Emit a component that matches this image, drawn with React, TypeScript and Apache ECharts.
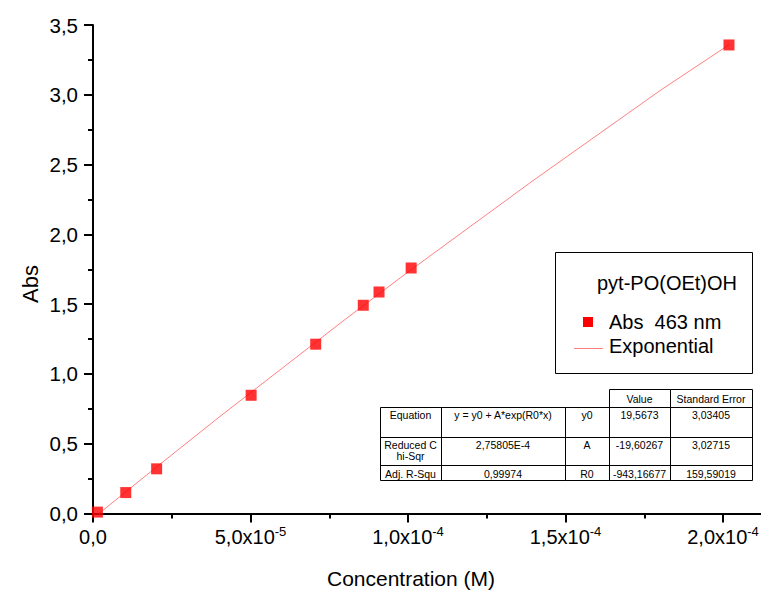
import React, { useEffect, useRef } from 'react';
import * as echarts from 'echarts';

// ---- Data ----
const concentration = [1.4e-6, 1.04e-5, 2.02e-5, 5.02e-5, 7.07e-5, 8.58e-5, 9.08e-5, 1.01e-4, 2.019e-4];
const absorbance = [0.01, 0.15, 0.32, 0.847, 1.213, 1.492, 1.587, 1.759, 3.357];

const fitX = [1.9e-6, 2e-5, 4e-5, 6e-5, 8e-5, 1e-4, 1.2e-4, 1.4e-4, 1.6e-4, 1.8e-4, 2.02e-4];
const fitY = [0.0, 0.33, 0.69, 1.04, 1.39, 1.73, 2.06, 2.39, 2.71, 3.03, 3.36];

const xTickValues = [0, 5e-5, 1e-4, 1.5e-4, 2e-4];
const xTickMantissa = ['0,0', '5,0x10', '1,0x10', '1,5x10', '2,0x10'];
const xTickExponent = ['', '-5', '-4', '-4', '-4'];
const yTickLabels = ['0,0', '0,5', '1,0', '1,5', '2,0', '2,5', '3,0', '3,5'];

const xAxisTitle = 'Concentration (M)';
const yAxisTitle = 'Abs';
const legendTitle = 'pyt-PO(OEt)OH';
const scatterName = 'Abs  463 nm';
const fitName = 'Exponential';

const tableHeader = ['Value', 'Standard Error'];
const tableRows = [
  ['Equation', 'y = y0 + A*exp(R0*x)', 'y0', '19,5673', '3,03405'],
  ['Reduced C\nhi-Sqr', '2,75805E-4', 'A', '-19,60267', '3,02715'],
  ['Adj. R-Squ', '0,99974', 'R0', '-943,16677', '159,59019'],
];

const FONT = '"Liberation Sans", Arial, sans-serif';

function buildTable(): any[] {
  const cols = [380, 441, 565, 609, 670, 752];
  const header = [389, 407];
  const rows = [407, 437, 465, 480];
  const els: any[] = [];
  const cell = (x0: number, y0: number, x1: number, y1: number, text: string, padTop: number, vAlign: string) => {
    els.push({
      type: 'rect',
      shape: { x: x0 + 0.5, y: y0 + 0.5, width: x1 - x0, height: y1 - y0 },
      style: { fill: 'none', stroke: '#000', lineWidth: 1 },
      silent: true,
    });
    els.push({
      type: 'text',
      x: (x0 + x1) / 2,
      y: vAlign === 'top' ? y0 + padTop : (y0 + y1) / 2 + 1,
      style: {
        text,
        fill: '#000',
        fontSize: 10.5,
        fontFamily: FONT,
        lineHeight: 11,
        align: 'center',
        textAlign: 'center',
        verticalAlign: vAlign,
        textVerticalAlign: vAlign,
      },
      silent: true,
    });
  };
  tableHeader.forEach((t, i) => cell(cols[3 + i], header[0], cols[4 + i], header[1], t, 0, 'middle'));
  tableRows.forEach((row, r) => {
    row.forEach((t, c) => {
      const last = r === tableRows.length - 1;
      cell(cols[c], rows[r], cols[c + 1], rows[r + 1], t, 2, last ? 'middle' : 'top');
    });
  });
  return els;
}

function buildLegend(): any[] {
  return [
    {
      type: 'rect',
      shape: { x: 555.5, y: 252.5, width: 197, height: 121 },
      style: { fill: '#fff', stroke: '#000', lineWidth: 1 },
      silent: true,
      z: 10,
    },
    {
      type: 'text',
      x: 597,
      y: 283,
      style: { text: legendTitle, fill: '#000', fontSize: 20, fontFamily: FONT, verticalAlign: 'middle', textVerticalAlign: 'middle' },
      z: 11,
    },
    {
      type: 'rect',
      shape: { x: 583, y: 317, width: 10, height: 10 },
      style: { fill: '#ff0000' },
      z: 11,
    },
    {
      type: 'text',
      x: 609,
      y: 322,
      style: { text: scatterName, fill: '#000', fontSize: 20, fontFamily: FONT, verticalAlign: 'middle', textVerticalAlign: 'middle' },
      z: 11,
    },
    {
      type: 'line',
      shape: { x1: 574, y1: 348.5, x2: 603, y2: 348.5 },
      style: { stroke: '#ff8080', lineWidth: 1 },
      z: 11,
    },
    {
      type: 'text',
      x: 609,
      y: 346,
      style: { text: fitName, fill: '#000', fontSize: 20, fontFamily: FONT, verticalAlign: 'middle', textVerticalAlign: 'middle' },
      z: 11,
    },
  ];
}

export default function App() {
  const ref = useRef<HTMLDivElement>(null);
  useEffect(() => {
    if (!ref.current) return;
    const chart = echarts.init(ref.current, null, { renderer: 'svg' });
    const axisCommon = {
      type: 'value' as const,
      splitLine: { show: false },
      axisLine: { show: true, onZero: false, lineStyle: { color: '#000', width: 2 } },
      axisTick: { show: true, inside: false, length: 9, lineStyle: { color: '#000', width: 2 } },
      minorTick: { show: true, splitNumber: 2, length: 5, lineStyle: { color: '#000', width: 2 } },
    };
    chart.setOption({
      animation: false,
      backgroundColor: '#fff',
      grid: { left: 93, top: 25, width: 708.75, height: 488.5, containLabel: false },
      xAxis: {
        ...axisCommon,
        min: 0,
        max: 2.25e-4,
        interval: 5e-5,
        axisLabel: {
          margin: 11,
          color: '#000',
          formatter: (v: number) => {
            const i = xTickValues.findIndex((t) => Math.abs(t - v) < 1e-12);
            if (i < 0) return '';
            return xTickExponent[i]
              ? `{m|${xTickMantissa[i]}}{s|${xTickExponent[i]}}`
              : `{m|${xTickMantissa[i]}}`;
          },
          rich: {
            m: { fontSize: 20, fontFamily: FONT, color: '#000', lineHeight: 22, verticalAlign: 'bottom' },
            s: { fontSize: 13, fontFamily: FONT, color: '#000', lineHeight: 22, verticalAlign: 'top', padding: [0, 0, 6, 0] },
          },
        },
      },
      yAxis: {
        ...axisCommon,
        min: 0,
        max: 3.5,
        interval: 0.5,
        axisLabel: {
          margin: 15,
          color: '#000',
          fontSize: 20.5,
          fontFamily: FONT,
          formatter: (v: number) => yTickLabels[Math.round(v / 0.5)] ?? '',
        },
      },
      series: [
        {
          name: fitName,
          type: 'line',
          data: fitX.map((x, i) => [x, fitY[i]]),
          showSymbol: false,
          symbol: 'none',
          lineStyle: { color: '#ff8080', width: 1 },
          z: 2,
        },
        {
          name: scatterName,
          type: 'scatter',
          data: concentration.map((x, i) => [x, absorbance[i]]),
          symbol: 'rect',
          symbolSize: 11,
          itemStyle: { color: '#ff0000' },
          z: 3,
        },
      ],
      graphic: [
        {
          type: 'text',
          x: 411,
          y: 578,
          style: { text: xAxisTitle, fill: '#000', fontSize: 21, fontFamily: FONT, align: 'center', textAlign: 'center', verticalAlign: 'middle', textVerticalAlign: 'middle' },
        },
        {
          type: 'text',
          x: 30,
          y: 284,
          rotation: Math.PI / 2,
          style: { text: yAxisTitle, fill: '#000', fontSize: 22, fontFamily: FONT, align: 'center', textAlign: 'center', verticalAlign: 'middle', textVerticalAlign: 'middle' },
        },
        ...buildLegend(),
        ...buildTable(),
      ],
    });
    return () => chart.dispose();
  }, []);
  return (
    <div style={{ position: 'fixed', left: 0, top: 0, width: 761, height: 597, overflow: 'hidden', background: '#fff' }}>
      <div ref={ref} style={{ width: 830, height: 597 }} />
    </div>
  );
}
